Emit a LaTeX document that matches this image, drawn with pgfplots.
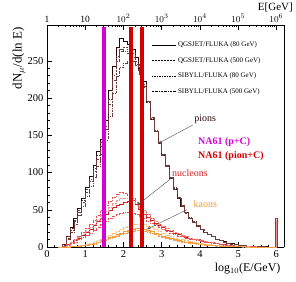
\documentclass[border=0pt]{standalone}
\usepackage{fontspec}
\setmainfont{Liberation Serif}
\usepackage{pgfplots}
\pgfplotsset{compat=1.18}
\usepackage{pgfplotstable}
\usetikzlibrary{arrows.meta}
\definecolor{pionA}{HTML}{2A0808}
\definecolor{pionB}{HTML}{6E3A3A}
\definecolor{nucA}{HTML}{D42020}
\definecolor{nucB}{HTML}{E85050}
\definecolor{nucC}{HTML}{F29090}
\definecolor{kaoA}{HTML}{F49A3A}
\definecolor{kaoB}{HTML}{F8C080}
\definecolor{na61m}{HTML}{D400D4}
\definecolor{na61r}{HTML}{D40000}

\pgfplotstableread{
x p1 p2 p3 p4
0.3 0 0 0 0
0.4 4 3 4 2
0.5 15 12 14 10
0.6 27 23 25 20
0.7 38 34 36 31
0.8 52 47 50 43
0.9 66 60 63 55
1.0 80 74 77 68
1.1 95 88 91 81
1.2 110 102 106 94
1.3 128 118 123 108
1.4 145 135 140 124
1.5 170 158 162 144
1.6 210 192 198 176
1.7 242 224 231 206
1.8 268 249 256 229
1.9 280 263 265 241
2.0 276 268 263 247
2.1 272 266 260 250
2.2 265 260 255 250
2.3 255 250 246 244
2.4 240 236 232 232
2.5 222 218 215 216
2.6 195 196 195 196
2.7 171 173 172 174
2.8 155 156 155 157
2.9 139 140 139 141
3.0 123 124 123 125
3.1 108 109 108 110
3.2 92 93 92 94
3.3 78 79 78 80
3.4 66 67 66 67
3.5 55 56 55 56
3.6 46 47 46 47
3.7 39 39 39 40
3.8 33 33 33 34
3.9 28 28 28 29
4.0 24 24 24 24
4.1 20 20 20 20
4.2 17 17 17 17
4.3 14 14 14 14
4.4 11 11 11 11
4.5 9 9 9 9
4.6 7 7 7 7
4.7 5.5 5.5 5.5 5.5
4.8 4.3 4.3 4.3 4.3
4.9 3.3 3.3 3.3 3.3
5.0 2.5 2.5 2.5 2.5
5.1 2 2 2 2
5.2 1.5 1.5 1.5 1.5
5.3 1.1 1.1 1.1 1.1
5.4 0.8 0.8 0.8 0.8
5.5 0.6 0.6 0.6 0.6
5.6 0.4 0.4 0.4 0.4
5.7 0.3 0.3 0.3 0.3
5.8 0.2 0.2 0.2 0.2
5.9 0.1 0.1 0.1 0.1
6.0 0 0 0 0
}\pions

\pgfplotstableread{
x n1 n2 n3 n4 k1 k2 k3 k4
0.3 0 0 0 0 0 0 0 0
0.4 1 1 1 1 0 0 0 0
0.5 3 4 3 2 0.3 0.4 0.3 0.3
0.6 6 7 6 5 0.6 0.8 0.5 0.5
0.7 9 11 9 7 1 1.3 0.9 0.9
0.8 12 15 13 10 1.5 1.9 1.4 1.3
0.9 16 20 17 13 2.2 2.7 2 1.9
1.0 20 25 21 16 3 3.7 2.7 2.6
1.1 24 30 26 19 4 5 3.6 3.5
1.2 29 36 31 23 5 6.3 4.5 4.4
1.3 34 42 36 26 7 8.5 6.3 6
1.4 39 49 42 30 9 11 8 7.8
1.5 44 56 48 34 11 13.5 10 9.6
1.6 49 62 54 38 13 16 11.7 11.3
1.7 53 67 59 41 15 18.5 13.5 13
1.8 56 71 63 44 17 21 15.3 14.8
1.9 58 74 65 46 19 23.5 17 16.5
2.0 60 72 66 47 21 26 19 18.3
2.1 62 69 65 47 23 28.5 20.7 20
2.2 63 65 63 46 24 30 21.6 21
2.3 58 60 59 44 25 31 22.5 22
2.4 50 54 54 41 25 31 22.5 22
2.5 44 49 49 38 24 30 21.6 21
2.6 40 44 44 35 23 28.5 20.7 20
2.7 36 39 39 32 21 26 19 18.3
2.8 32 35 35 29 19 23.5 17 16.5
2.9 29 31 31 26 17 21 15.3 14.8
3.0 26 28 28 24 15 18.5 13.5 13
3.1 23 25 25 21 13 16 11.7 11.3
3.2 21 22 22 19 11.5 14 10.4 10
3.3 19 20 20 17 10 12.3 9 8.7
3.4 17 18 18 15 9 11 8.1 7.8
3.5 15 16 16 14 8 9.8 7.2 7
3.6 13 14 14 12 7 8.6 6.3 6.1
3.7 12 12 12 11 6 7.4 5.4 5.2
3.8 11 11 11 10 5.2 6.4 4.7 4.5
3.9 10 10 10 9 4.5 5.5 4 3.9
4.0 9 9 9 8 3.8 4.7 3.4 3.3
4.1 8 8 8 7 3.2 3.9 2.9 2.8
4.2 7 7 7 6 2.7 3.3 2.4 2.3
4.3 6 6 6 5 2.2 2.7 2 1.9
4.4 5 5 5 4.5 1.8 2.2 1.6 1.6
4.5 4 4 4 4 1.5 1.8 1.3 1.3
4.6 3 3 3 3 1.2 1.5 1.1 1
4.7 2.5 2.5 2.5 2.5 1 1.2 0.9 0.9
4.8 2 2 2 2 0.8 1 0.7 0.7
4.9 1.5 1.5 1.5 1.5 0.6 0.7 0.5 0.5
5.0 1 1 1 1 0.5 0.6 0.4 0.4
5.1 0.8 0.8 0.8 0.8 0.4 0.5 0.3 0.3
5.2 0.6 0.6 0.6 0.6 0.3 0.4 0.3 0.3
5.3 0.5 0.5 0.5 0.5 0.2 0.3 0.2 0.2
5.4 0.4 0.4 0.4 0.4 0.2 0.2 0.2 0.2
5.5 0.3 0.3 0.3 0.3 0.1 0.1 0.1 0.1
5.6 0.2 0.2 0.2 0.2 0.1 0.1 0.1 0.1
5.7 0.2 0.2 0.2 0.2 0 0 0 0
5.8 0.1 0.1 0.1 0.1 0 0 0 0
5.9 0.1 0.1 0.1 0.1 0 0 0 0
6.0 0 0 0 0 0 0 0 0
}\others

\begin{document}
\begin{tikzpicture}
\pgfplotsset{
  every axis/.append style={
    scale only axis, width=237pt, height=222pt,
    /pgf/number format/assume math mode=true,
    tick label style={font=\fontsize{10.5}{12}\selectfont},
    tick style={black, line width=0.5pt},
    major tick length=5pt, minor tick length=2.5pt,
  },
}
\begin{axis}[
  name=main,
  xmin=0, xmax=6.2, ymin=0, ymax=298,
  axis x line*=bottom,
  axis y line*=left,
  xtick={0,1,2,3,4,5,6},
  minor x tick num=4,
  ytick={0,50,100,150,200,250},
  minor y tick num=4,
  xlabel={log$_{10}$(E/GeV)},
  xlabel style={font=\fontsize{12}{13}\selectfont, at={(rel axis cs:1,0)}, anchor=north east, yshift=-13pt},
  legend style={draw=none, fill=none, at={(0.44,0.935)}, anchor=north west,
    font=\fontsize{7}{8}\selectfont, row sep=5.2pt, inner sep=0pt},
  legend cell align=left,
  legend image post style={black},
  legend image code/.code={\draw[#1] (0pt,0pt) -- (24pt,0pt);},
  clip=false,
]
% legend entries
\addplot[const plot, pionA, line width=0.6pt] table[x=x,y=p1]{\pions};
\addlegendentry{QGSJET/FLUKA (80 GeV)}
\addplot[const plot, pionB, densely dotted, line width=0.5pt] table[x=x,y=p2]{\pions};
\addlegendentry{QGSJET/FLUKA (500 GeV)}
\addplot[const plot, pionB, dash pattern=on 1.5pt off 1pt, line width=0.45pt] table[x=x,y=p3]{\pions};
\addlegendentry{SIBYLL/FLUKA (80 GeV)}
\addplot[const plot, pionB, dash pattern=on 2pt off 1pt on 0.5pt off 1pt, line width=0.45pt] table[x=x,y=p4]{\pions};
\addlegendentry{SIBYLL/FLUKA (500 GeV)}
% nucleons
\addplot[const plot, nucA, line width=0.55pt, forget plot] table[x=x,y=n1]{\others};
\addplot[const plot, nucB, densely dotted, line width=0.5pt, forget plot] table[x=x,y=n2]{\others};
\addplot[const plot, nucC, dash pattern=on 1.5pt off 1pt, line width=0.45pt, forget plot] table[x=x,y=n3]{\others};
\addplot[const plot, nucB, dash pattern=on 2pt off 1pt on 0.5pt off 1pt, line width=0.45pt, forget plot] table[x=x,y=n4]{\others};
% kaons
\addplot[const plot, kaoA, line width=0.55pt, forget plot] table[x=x,y=k1]{\others};
\addplot[const plot, kaoB, densely dotted, line width=0.5pt, forget plot] table[x=x,y=k2]{\others};
\addplot[const plot, kaoB, dash pattern=on 1.5pt off 1pt, line width=0.45pt, forget plot] table[x=x,y=k3]{\others};
\addplot[const plot, kaoA, dash pattern=on 2pt off 1pt on 0.5pt off 1pt, line width=0.45pt, forget plot] table[x=x,y=k4]{\others};
% spike at 6
\addplot[nucA, line width=0.5pt, forget plot] coordinates {(5.98,0) (5.98,39) (6.02,39) (6.02,0)};
\addplot[nucC, line width=0.5pt, forget plot] coordinates {(5.995,0) (5.995,36)};
% NA61 bars
\addplot[na61m, line width=4pt, forget plot] coordinates {(1.49,0) (1.49,295)};
\addplot[na61r, line width=4pt, forget plot] coordinates {(2.21,0) (2.21,295)};
\addplot[na61r, line width=4pt, forget plot] coordinates {(2.49,0) (2.49,295)};
% annotations
\draw[black!70, line width=0.4pt, -{Stealth[length=3.5pt,width=3pt]}] (axis cs:3.82,164) -- (axis cs:2.91,139);
\node[font=\fontsize{10}{11}\selectfont, pionA] at (axis cs:4.14,172) {pions};
\node[font=\bfseries\fontsize{10}{11}\selectfont, na61m, anchor=west, inner sep=0pt] at (axis cs:3.95,141) {NA61 (p+C)};
\node[font=\bfseries\fontsize{10}{11}\selectfont, na61r, anchor=west, inner sep=0pt] at (axis cs:3.95,122) {NA61 (pion+C)};
\draw[black!70, line width=0.4pt, -{Stealth[length=3.5pt,width=3pt]}] (axis cs:3.27,93) -- (axis cs:2.36,56);
\node[font=\fontsize{10}{11}\selectfont, nucA] at (axis cs:3.74,99) {nucleons};
\draw[black!70, line width=0.4pt, -{Stealth[length=3.5pt,width=3pt]}] (axis cs:3.66,50) -- (axis cs:2.62,24);
\node[font=\fontsize{10}{11}\selectfont, kaoA] at (axis cs:4.14,58) {kaons};
\end{axis}
\node[rotate=90, anchor=east, font=\fontsize{13}{14}\selectfont, inner sep=0pt] at ([xshift=-28pt,yshift=-2pt]main.north west) {dN$_\mu$/d(ln E)};
\begin{axis}[
  xmode=log, xmin=1, xmax=1584893,
  ymin=0, ymax=298,
  axis x line*=top,
  axis y line*=right,
  ytick=\empty,
  xtick={1,10,100,1000,10000,100000,1000000},
  xticklabels={1,10,$10^2$,$10^3$,$10^4$,$10^5$,$10^6$},
  tick label style={font=\fontsize{9.5}{10}\selectfont},
  xticklabel style={yshift=-1pt},
  clip=false,
]
\node[anchor=south east, font=\fontsize{11}{12}\selectfont, inner sep=0pt] at ([xshift=9pt,yshift=13pt]rel axis cs:1,1) {E[GeV]};
\end{axis}
\pgfresetboundingbox
\path[use as bounding box] ([xshift=-47pt,yshift=-34pt]main.south west) rectangle ([xshift=12pt,yshift=25pt]main.north east);
\end{tikzpicture}
\end{document}
